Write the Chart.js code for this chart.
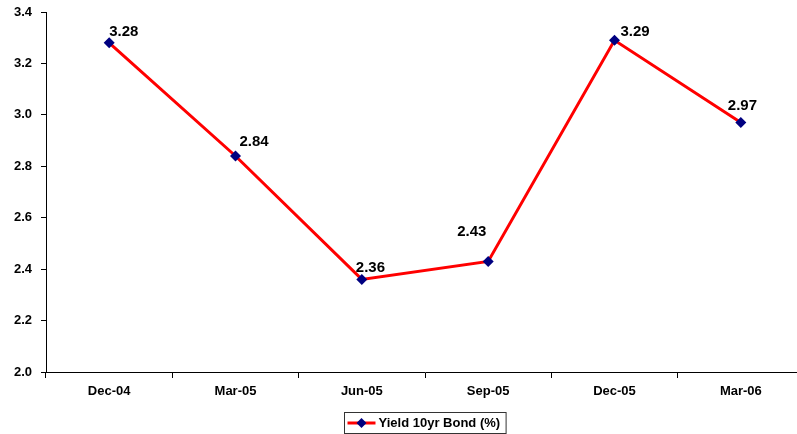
<!DOCTYPE html>
<html>
<head>
<meta charset="utf-8">
<script src="https://cdn.jsdelivr.net/npm/chart.js@4/dist/chart.umd.min.js"></script>
<style>
html,body{margin:0;padding:0;background:#fff;overflow:hidden;width:797px;height:434px;}
#wrap{position:absolute;left:0;top:0;width:850px;height:434px;}
</style>
</head>
<body>
<div id="wrap"><canvas id="c" width="850" height="434"></canvas></div>
<script>
const categories = ["Dec-04", "Mar-05", "Jun-05", "Sep-05", "Dec-05", "Mar-06"];
const yieldValues = [3.28, 2.84, 2.36, 2.43, 3.29, 2.97];
const seriesName = "Yield 10yr Bond (%)";
const yMin = 2.0, yMax = 3.4, yStep = 0.2;

const FONT = "'Liberation Sans', Arial, sans-serif";
// label placement relative to each point (left edge dx, vertical centre dy)
const labelOffsets = [[0,-11],[4,-14],[-6,-12],[-31,-30],[6,-8],[-13,-17]];

const dataLabels = {
  id: 'dataLabels',
  afterDatasetsDraw(chart) {
    const ctx = chart.ctx;
    const meta = chart.getDatasetMeta(0);
    ctx.save();
    ctx.font = "bold 15px " + FONT;
    ctx.fillStyle = "#000";
    ctx.textAlign = "left";
    ctx.textBaseline = "middle";
    meta.data.forEach((pt, i) => {
      const o = labelOffsets[i] || [4, -12];
      ctx.fillText(yieldValues[i].toFixed(2), pt.x + o[0], pt.y + o[1]);
    });
    ctx.restore();
  }
};

const boxLegend = {
  id: 'boxLegend',
  afterDraw(chart) {
    const ctx = chart.ctx;
    ctx.save();
    ctx.font = "bold 13px " + FONT;
    const tw = ctx.measureText(seriesName).width;
    const bw = 34 + tw + 6;
    const cx = chart.width / 2;
    const x0 = Math.round(cx - bw / 2) + 0.5;
    const y0 = 412.5, bh = 21;
    ctx.fillStyle = "#fff";
    ctx.fillRect(x0, y0, bw, bh);
    ctx.strokeStyle = "#333";
    ctx.lineWidth = 1;
    ctx.strokeRect(x0, y0, bw, bh);
    const ly = y0 + bh / 2;
    ctx.strokeStyle = "#ff0000";
    ctx.lineWidth = 3;
    ctx.beginPath();
    ctx.moveTo(x0 + 3, ly);
    ctx.lineTo(x0 + 31, ly);
    ctx.stroke();
    ctx.fillStyle = "#000080";
    ctx.beginPath();
    const mx = x0 + 17, r = 5;
    ctx.moveTo(mx, ly - r); ctx.lineTo(mx + r, ly); ctx.lineTo(mx, ly + r); ctx.lineTo(mx - r, ly);
    ctx.closePath();
    ctx.fill();
    ctx.fillStyle = "#000";
    ctx.textAlign = "left";
    ctx.textBaseline = "middle";
    ctx.fillText(seriesName, x0 + 34, ly + 0.5);
    ctx.restore();
  }
};

new Chart(document.getElementById('c'), {
  type: 'line',
  data: {
    labels: categories,
    datasets: [{
      label: seriesName,
      data: yieldValues,
      borderColor: '#ff0000',
      borderWidth: 3,
      backgroundColor: '#000080',
      pointBackgroundColor: '#000080',
      pointBorderColor: '#000080',
      pointStyle: 'rectRot',
      pointRadius: 5.5,
      pointBorderWidth: 0,
      tension: 0,
      fill: false
    }]
  },
  options: {
    responsive: false,
    animation: false,
    devicePixelRatio: 1,
    layout: { padding: { top: 12, right: 46, bottom: 0, left: 0 } },
    plugins: { legend: { display: false }, tooltip: { enabled: false } },
    scales: {
      x: {
        offset: true,
        grid: { display: true, drawOnChartArea: false, drawTicks: true, tickLength: 6, color: '#000', offset: true },
        border: { display: true, color: '#000', width: 1 },
        ticks: { color: '#000', font: { family: FONT, size: 13, weight: 'bold' }, padding: 6, maxRotation: 0 },
        afterFit(scale) { scale.height = 62; scale.paddingLeft = 0; scale.paddingRight = 0; }
      },
      y: {
        min: yMin, max: yMax,
        grid: { display: true, drawOnChartArea: false, drawTicks: true, tickLength: 5, color: '#000' },
        border: { display: true, color: '#000', width: 1 },
        ticks: { stepSize: yStep, color: '#000', font: { family: FONT, size: 13, weight: 'bold' }, padding: 9,
          callback: v => Number(v).toFixed(1) },
        afterFit(scale) { scale.width = 46; scale.paddingTop = 0; scale.paddingBottom = 0; }
      }
    }
  },
  plugins: [dataLabels, boxLegend]
});
</script>
</body>
</html>
